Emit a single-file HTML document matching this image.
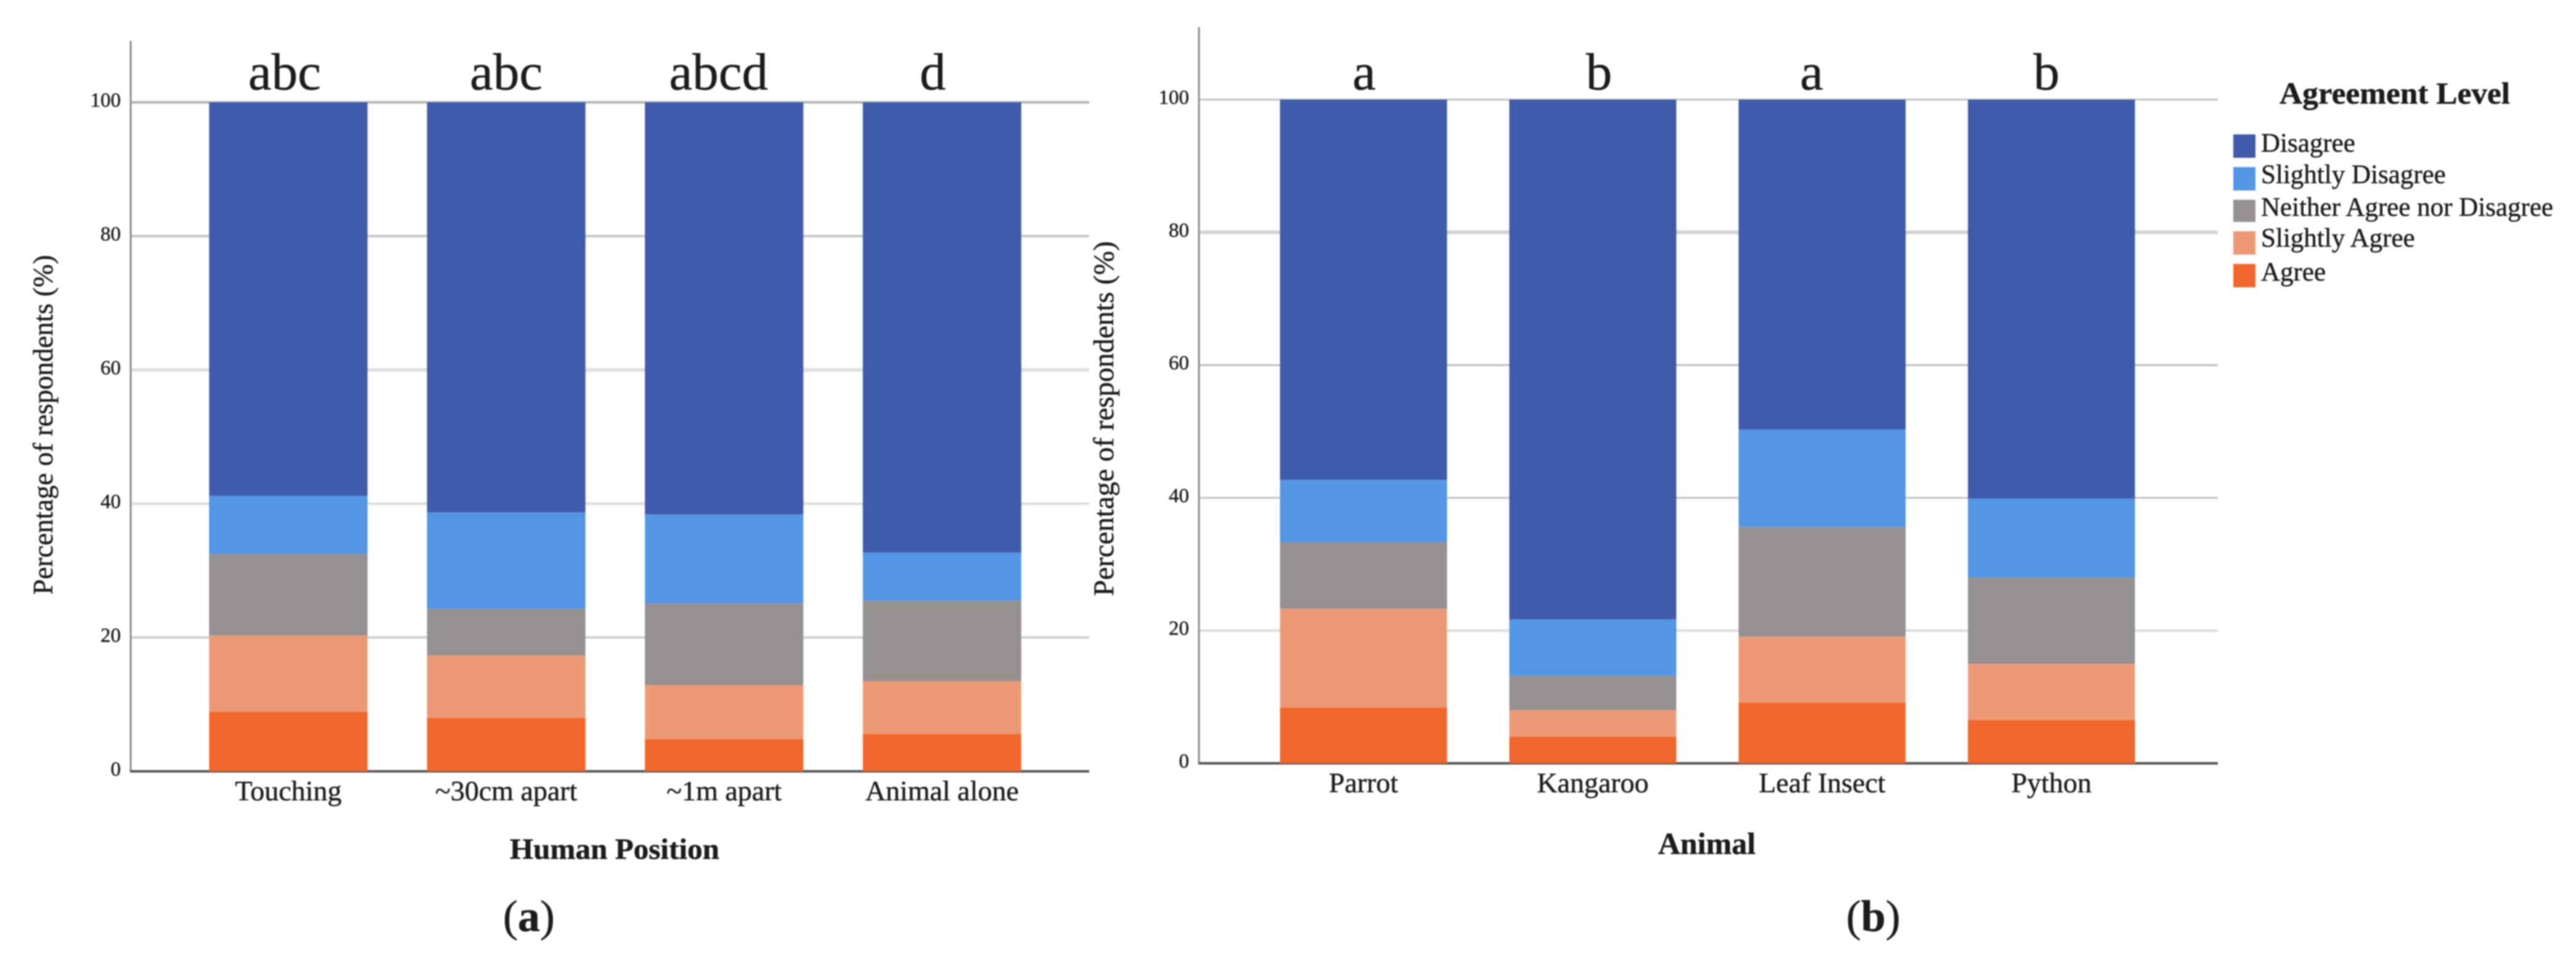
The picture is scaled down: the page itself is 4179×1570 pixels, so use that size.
<!DOCTYPE html>
<html lang="en">
<head>
<meta charset="utf-8">
<title>Agreement level by human position and animal</title>
<style>
html,body{margin:0;padding:0;background:#fff;width:4179px;height:1570px;overflow:hidden}
svg{display:block;filter:blur(1px)}
text{font-family:"Liberation Serif",serif;fill:#1c1c1c;stroke:#1c1c1c;stroke-width:.5px}
</style>
</head>
<body>
<svg id="chart" xmlns="http://www.w3.org/2000/svg" width="4179" height="1570" viewBox="0 0 4179 1570">
  <rect x="0" y="0" width="4179" height="1570" fill="#fff"/>
  <g id="panelA"></g>
  <g id="panelB"></g>

  <text x="997" y="1393" text-anchor="middle" font-size="48" font-weight="bold" textLength="340" lengthAdjust="spacingAndGlyphs">Human Position</text>
  <text x="2769" y="1385" text-anchor="middle" font-size="50" font-weight="bold">Animal</text>
  <text transform="translate(85,689) rotate(-90)" text-anchor="middle" font-size="45">Percentage of respondents (%)</text>
  <text transform="translate(1806,679) rotate(-90)" text-anchor="middle" font-size="47">Percentage of respondents (%)</text>

  <text x="858" y="1510" text-anchor="middle" font-size="72" fill="#000">(<tspan font-weight="bold">a</tspan>)</text>
  <text x="3039" y="1510" text-anchor="middle" font-size="72" fill="#000">(<tspan font-weight="bold">b</tspan>)</text>

  <g>
    <text x="3698" y="168" font-size="50" font-weight="bold" textLength="374" lengthAdjust="spacingAndGlyphs">Agreement Level</text>
    <rect x="3623" y="218" width="36" height="38" fill="#3f5ba9"/>
    <text x="3668" y="246" font-size="43">Disagree</text>
    <rect x="3623" y="271" width="36" height="38" fill="#5496e6"/>
    <text x="3668" y="297" font-size="43">Slightly Disagree</text>
    <rect x="3623" y="324" width="36" height="36" fill="#969191"/>
    <text x="3668" y="350" font-size="43">Neither Agree nor Disagree</text>
    <rect x="3623" y="375" width="36" height="38" fill="#ec9a76"/>
    <text x="3668" y="400" font-size="43">Slightly Agree</text>
    <rect x="3623" y="428" width="36" height="38" fill="#f1672b"/>
    <text x="3668" y="455" font-size="43">Agree</text>
  </g>
</svg>
<script>
// ---- Data ----
const yTicks = [0, 20, 40, 60, 80, 100];
const seriesColors = ['#f1672b', '#ec9a76', '#969191', '#5496e6', '#3f5ba9'];

const categoriesA = ['Touching', '~30cm apart', '~1m apart', 'Animal alone'];
const lettersA = ['abc', 'abc', 'abcd', 'd'];
const agreeA = [8.9, 8.0, 4.8, 5.6];
const slightlyAgreeA = [11.4, 9.3, 8.1, 7.9];
const neitherA = [12.2, 7.0, 12.2, 12.0];
const slightlyDisagreeA = [8.7, 14.4, 13.3, 7.2];
const disagreeA = [58.8, 61.3, 61.6, 67.3];

const categoriesB = ['Parrot', 'Kangaroo', 'Leaf Insect', 'Python'];
const lettersB = ['a', 'b', 'a', 'b'];
const agreeB = [8.4, 4.0, 9.1, 6.5];
const slightlyAgreeB = [14.9, 4.0, 10.0, 8.5];
const neitherB = [10.0, 5.2, 16.5, 13.0];
const slightlyDisagreeB = [9.4, 8.5, 14.7, 11.9];
const disagreeB = [57.3, 78.3, 49.7, 60.1];

// ---- Rendering ----
const NS = 'http://www.w3.org/2000/svg';

function drawPanel(root, cfg) {
  const yScale = v => cfg.y0 - (cfg.y0 - cfg.y100) * v / 100;
  const xCenter = i => cfg.bandStart + cfg.pitch * (i + 0.5);

  yTicks.forEach(t => {
    if (t === 0) return;
    const line = document.createElementNS(NS, 'line');
    
    
    line.setAttribute('x1', cfg.axisX);
    line.setAttribute('x2', cfg.gridEnd);
    line.setAttribute('y1', yScale(t));
    line.setAttribute('y2', yScale(t));
    line.setAttribute('stroke', cfg.gridStyle[t].color);
    line.setAttribute('stroke-width', cfg.gridStyle[t].width);
    root.appendChild(line);
  });

  yTicks.forEach(t => {
    const label = document.createElementNS(NS, 'text');
    
    
    label.setAttribute('x', cfg.axisX - 16);
    label.setAttribute('y', yScale(t) + 7);
    label.setAttribute('text-anchor', 'end');
    label.setAttribute('font-size', 33);
    label.textContent = t;
    root.appendChild(label);
  });

  const yAxis = document.createElementNS(NS, 'line');
  
  
  yAxis.setAttribute('x1', cfg.axisX);
  yAxis.setAttribute('x2', cfg.axisX);
  yAxis.setAttribute('y1', cfg.axisTop);
  yAxis.setAttribute('y2', cfg.y0);
  yAxis.setAttribute('stroke', '#8a8a8a');
  yAxis.setAttribute('stroke-width', 3);
  root.appendChild(yAxis);

  const xAxis = document.createElementNS(NS, 'line');
  
  
  xAxis.setAttribute('x1', cfg.axisX - 1);
  xAxis.setAttribute('x2', cfg.gridEnd);
  xAxis.setAttribute('y1', cfg.y0);
  xAxis.setAttribute('y2', cfg.y0);
  xAxis.setAttribute('stroke', '#555');
  xAxis.setAttribute('stroke-width', 4);
  root.appendChild(xAxis);

  cfg.categories.forEach((cat, i) => {
    let base = 0;
    cfg.series.forEach((values, s) => {
      const top = base + values[i];
      const seg = document.createElementNS(NS, 'rect');
      
      
      seg.setAttribute('x', xCenter(i) - cfg.barWidth / 2);
      seg.setAttribute('y', yScale(top));
      seg.setAttribute('width', cfg.barWidth);
      seg.setAttribute('height', yScale(base) - yScale(top));
      seg.setAttribute('fill', seriesColors[s]);
      root.appendChild(seg);
      base = top;
    });

    const catLabel = document.createElementNS(NS, 'text');
    
    
    catLabel.setAttribute('x', xCenter(i));
    catLabel.setAttribute('y', cfg.y0 + 47);
    catLabel.setAttribute('text-anchor', 'middle');
    catLabel.setAttribute('font-size', 46);
    catLabel.textContent = cat;
    root.appendChild(catLabel);

    const letter = document.createElementNS(NS, 'text');
    
    
    letter.setAttribute('x', xCenter(i) + cfg.letterOffset[i]);
    letter.setAttribute('y', 145);
    letter.setAttribute('text-anchor', 'middle');
    letter.setAttribute('font-size', 85);
    letter.setAttribute('fill', '#000');
    letter.textContent = cfg.letters[i];
    root.appendChild(letter);
  });
}

drawPanel(document.getElementById('panelA'), {
  categories: categoriesA, letters: lettersA,
  series: [agreeA, slightlyAgreeA, neitherA, slightlyDisagreeA, disagreeA],
  axisX: 212, axisTop: 66, gridEnd: 1767, y0: 1251, y100: 166,
  bandStart: 291, pitch: 353.5, barWidth: 257,
  letterOffset: [-6, 0, -9, -15],
  gridStyle: {
    20: {color: '#d0d0d0', width: 4},
    40: {color: '#dcdcdc', width: 4},
    60: {color: '#e0e0e0', width: 6},
    80: {color: '#c8c8c8', width: 4},
    100: {color: '#b4b4b4', width: 4}
  }
});
drawPanel(document.getElementById('panelB'), {
  categories: categoriesB, letters: lettersB,
  series: [agreeB, slightlyAgreeB, neitherB, slightlyDisagreeB, disagreeB],
  axisX: 1945, axisTop: 44, gridEnd: 3598, y0: 1238, y100: 161.5,
  bandStart: 2026, pitch: 372, barWidth: 271,
  letterOffset: [1, 10, -17, -8],
  gridStyle: {
    20: {color: '#dedede', width: 4},
    40: {color: '#c4c4c4', width: 3},
    60: {color: '#bcbcbc', width: 3},
    80: {color: '#d4d4d4', width: 6},
    100: {color: '#c4c4c4', width: 3}
  }
});
</script>
</body>
</html>
